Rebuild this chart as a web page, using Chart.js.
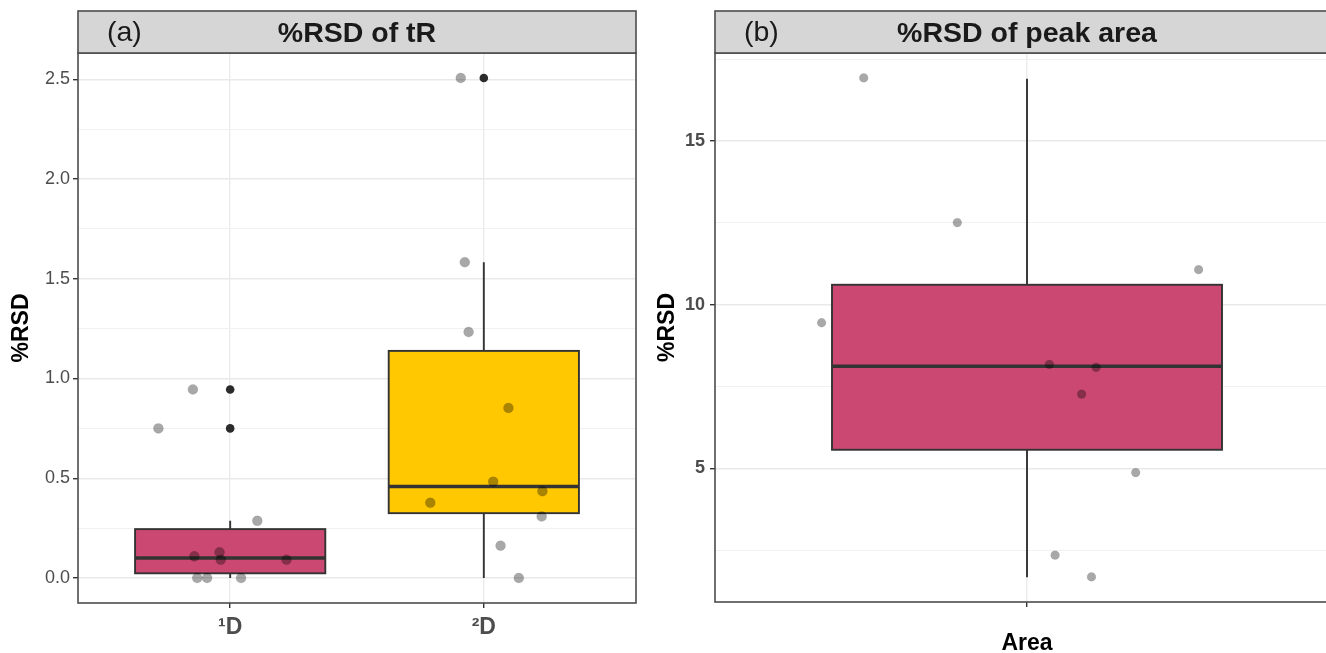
<!DOCTYPE html>
<html><head><meta charset="utf-8">
<script src="https://cdn.jsdelivr.net/npm/chart.js@4.4.1/dist/chart.umd.min.js"></script>
<style>
html,body{margin:0;padding:0;background:#fff;overflow:hidden;width:1326px;height:653px;}
#wrap{position:relative;width:1326px;height:653px;overflow:hidden;background:#fff;}
#ca{position:absolute;left:0;top:0;}
#cb{position:absolute;left:650px;top:0;}
</style></head><body>
<div id="wrap"><canvas id="ca" width="650" height="653"></canvas><canvas id="cb" width="700" height="653"></canvas></div>
<script>
// ---------- Panel (a): %RSD of tR ----------
const categoriesA = ['\u00B9D', '\u00B2D'];
const catPosA = [1, 2];
const boxLoA  = [0.0, 0.0];
const boxQ1A  = [0.0235, 0.325];
const boxMedA = [0.100, 0.4585];
const boxQ3A  = [0.245, 1.1385];
const boxHiA  = [0.2865, 1.583];
const outliersA = [[0.75, 0.945], [2.507]];
const jitterXA1 = [0.853, 0.717, 1.107, 0.859, 0.958, 0.963, 1.222, 0.870, 0.909, 1.043];
const jitterYA1 = [0.945, 0.75, 0.2865, 0.1085, 0.1285, 0.0915, 0.0915, 0.0, 0.0, 0.0];
const jitterXA2 = [1.909, 1.925, 1.940, 2.097, 2.037, 2.231, 1.789, 2.228, 2.066, 2.138];
const jitterYA2 = [2.507, 1.583, 1.233, 0.852, 0.483, 0.435, 0.377, 0.308, 0.162, 0.0];
const yMajorA = [0, 0.5, 1.0, 1.5, 2.0, 2.5];
const yMinorA = [0.25, 0.75, 1.25, 1.75, 2.25];
const yLabelsA = ['0.0', '0.5', '1.0', '1.5', '2.0', '2.5'];

// ---------- Panel (b): %RSD of peak area ----------
const categoriesB = ['Area'];
const catPosB = [1];
const boxLoB  = [1.675];
const boxQ1B  = [5.57];
const boxMedB = [8.12];
const boxQ3B  = [10.61];
const boxHiB  = [16.9];
const jitterXB = [0.686, 0.866, 1.330, 0.605, 1.043, 1.133, 1.105, 1.209, 1.054, 1.124];
const jitterYB = [16.93, 12.51, 11.07, 9.45, 8.18, 8.09, 7.27, 4.875, 2.35, 1.687];
const yMajorB = [5, 10, 15];
const yMinorB = [2.5, 7.5, 12.5, 17.5];
const yLabelsB = ['5', '10', '15'];

const boxColors = ['#CA4872', '#FFC800'];
const FONT = "'Liberation Sans', Arial, sans-serif";
const EDGE = '#333333';

function near(a, b) { return Math.abs(a - b) < 1e-9; }

const boxPlugin = {
  id: 'boxes',
  beforeDatasetsDraw(chart, args, o) {
    const ctx = chart.ctx, xs = chart.scales.x, ys = chart.scales.y;
    const ca = chart.chartArea;
    ctx.save();
    ctx.beginPath(); ctx.rect(ca.left, ca.top, ca.right - ca.left, ca.bottom - ca.top); ctx.clip();
    o.pos.forEach((p, i) => {
      const xc = xs.getPixelForValue(p);
      const xl = xs.getPixelForValue(p - o.width / 2), xr = xs.getPixelForValue(p + o.width / 2);
      const yq1 = ys.getPixelForValue(o.q1[i]), yq3 = ys.getPixelForValue(o.q3[i]);
      const ymed = ys.getPixelForValue(o.med[i]);
      const ylo = ys.getPixelForValue(o.lo[i]), yhi = ys.getPixelForValue(o.hi[i]);
      ctx.strokeStyle = EDGE; ctx.lineWidth = 1.9; ctx.lineCap = 'butt';
      ctx.beginPath(); ctx.moveTo(xc, yq3); ctx.lineTo(xc, yhi); ctx.moveTo(xc, yq1); ctx.lineTo(xc, ylo); ctx.stroke();
      ctx.fillStyle = o.colors[i];
      ctx.fillRect(xl, yq3, xr - xl, yq1 - yq3);
      ctx.strokeRect(xl, yq3, xr - xl, yq1 - yq3);
      ctx.lineWidth = 3.6;
      ctx.beginPath(); ctx.moveTo(xl, ymed); ctx.lineTo(xr, ymed); ctx.stroke();
    });
    ctx.restore();
  }
};

const decoPlugin = {
  id: 'deco',
  afterDraw(chart, args, o) {
    const ctx = chart.ctx, ca = chart.chartArea;
    ctx.save();
    ctx.strokeStyle = '#4d4d4d'; ctx.lineWidth = 1.6;
    ctx.strokeRect(ca.left, ca.top, ca.right - ca.left, ca.bottom - ca.top);
    ctx.fillStyle = '#d6d6d6';
    ctx.fillRect(ca.left, o.stripTop, ca.right - ca.left, ca.top - o.stripTop);
    ctx.strokeRect(ca.left, o.stripTop, ca.right - ca.left, ca.top - o.stripTop);
    const cy = (o.stripTop + ca.top) / 2 + 2;
    ctx.fillStyle = '#1a1a1a'; ctx.textBaseline = 'middle';
    ctx.font = 'bold 28.5px ' + FONT; ctx.textAlign = 'center';
    ctx.fillText(o.title, (ca.left + ca.right) / 2, cy);
    ctx.font = '28.5px ' + FONT; ctx.textAlign = 'left';
    ctx.fillText(o.label, ca.left + 29, cy - 1);
    ctx.restore();
  }
};

function pts(xa, ya) { return xa.map((x, i) => ({ x: x, y: ya[i] })); }

function yScale(min, max, major, minor, labels, width, bold, titlePad) {
  const all = major.concat(minor).sort((a, b) => a - b);
  const isMajor = v => major.some(m => near(m, v));
  return {
    type: 'linear', min: min, max: max,
    afterBuildTicks: ax => { ax.ticks = all.map(v => ({ value: v })); },
    afterFit: s => { s.width = width; },
    border: { display: false },
    grid: {
      color: c => (c.tick && isMajor(c.tick.value)) ? '#e9e9e9' : '#f1f1f1',
      lineWidth: c => (c.tick && isMajor(c.tick.value)) ? 1.4 : 1.0,
      drawTicks: true, tickLength: 5,
      tickColor: c => (c.tick && isMajor(c.tick.value)) ? '#333' : 'rgba(0,0,0,0)',
      tickWidth: 1.4
    },
    ticks: {
      autoSkip: false, padding: bold ? 5 : 3, color: '#4d4d4d',
      font: { family: FONT, size: 18, weight: bold ? 'bold' : 'normal' },
      callback: (v) => { const i = major.findIndex(m => near(m, v)); return i >= 0 ? labels[i] : ''; }
    },
    title: { display: true, text: '%RSD', color: '#000', font: { family: FONT, size: 23, weight: 'bold' }, padding: { top: titlePad, bottom: 0 } }
  };
}

function xScale(min, max, pos, labels, height, title) {
  return {
    type: 'linear', min: min, max: max,
    afterBuildTicks: ax => { ax.ticks = pos.map(v => ({ value: v })); },
    afterFit: s => { s.height = height; },
    border: { display: false },
    grid: { color: '#ebebeb', lineWidth: 1.4, drawTicks: true, tickLength: 5, tickColor: '#333', tickWidth: 1.4 },
    ticks: {
      autoSkip: false, maxRotation: 0, padding: 6, color: '#4d4d4d',
      font: { family: FONT, size: 23, weight: 'bold' },
      callback: (v) => { const i = pos.findIndex(p => near(p, v)); return i >= 0 ? labels[i] : ''; }
    },
    title: title ? { display: true, text: title, color: '#000', font: { family: FONT, size: 23, weight: 'bold', lineHeight: 0.8 }, padding: { top: 0, bottom: 0 } } : { display: false }
  };
}

const jitterStyle = { backgroundColor: 'rgba(0,0,0,0.34)', borderColor: 'rgba(0,0,0,0.12)', borderWidth: 0.6 };

new Chart(document.getElementById('ca'), {
  type: 'scatter',
  data: {
    datasets: [
      Object.assign({ data: pts(jitterXA1, jitterYA1), pointRadius: 5, order: 0 }, jitterStyle),
      Object.assign({ data: pts(jitterXA2, jitterYA2), pointRadius: 5, order: 0 }, jitterStyle),
      { data: outliersA.flatMap((arr, i) => arr.map(v => ({ x: catPosA[i], y: v }))), pointRadius: 4.3,
        backgroundColor: '#2b2b2b', borderWidth: 0, order: 1 }
    ]
  },
  options: {
    responsive: false, animation: false, events: [],
    layout: { padding: { left: 0, right: 14, top: 53, bottom: 0 } },
    plugins: {
      legend: { display: false }, tooltip: { enabled: false },
      boxes: { pos: catPosA, lo: boxLoA, q1: boxQ1A, med: boxMedA, q3: boxQ3A, hi: boxHiA, colors: boxColors, width: 0.75 },
      deco: { stripTop: 11, title: '%RSD of tR', label: '(a)' }
    },
    scales: {
      x: xScale(0.4, 2.6, catPosA, categoriesA, 50, null),
      y: yScale(-0.1254, 2.632, yMajorA, yMinorA, yLabelsA, 78, false, 8)
    }
  },
  plugins: [boxPlugin, decoPlugin]
});

new Chart(document.getElementById('cb'), {
  type: 'scatter',
  data: {
    datasets: [
      Object.assign({ data: pts(jitterXB, jitterYB), pointRadius: 4.4, order: 0 }, jitterStyle)
    ]
  },
  options: {
    responsive: false, animation: false, events: [],
    layout: { padding: { left: 0, right: 11, top: 53, bottom: 0 } },
    plugins: {
      legend: { display: false }, tooltip: { enabled: false },
      boxes: { pos: catPosB, lo: boxLoB, q1: boxQ1B, med: boxMedB, q3: boxQ3B, hi: boxHiB, colors: [boxColors[0]], width: 0.75 },
      deco: { stripTop: 11, title: '%RSD of peak area', label: '(b)' }
    },
    scales: {
      x: xScale(0.4, 1.6, catPosB, [''], 51, 'Area'),
      y: yScale(0.92, 17.69, yMajorB, yMinorB, yLabelsB, 65, true, 4)
    }
  },
  plugins: [boxPlugin, decoPlugin]
});
</script>
</body></html>
